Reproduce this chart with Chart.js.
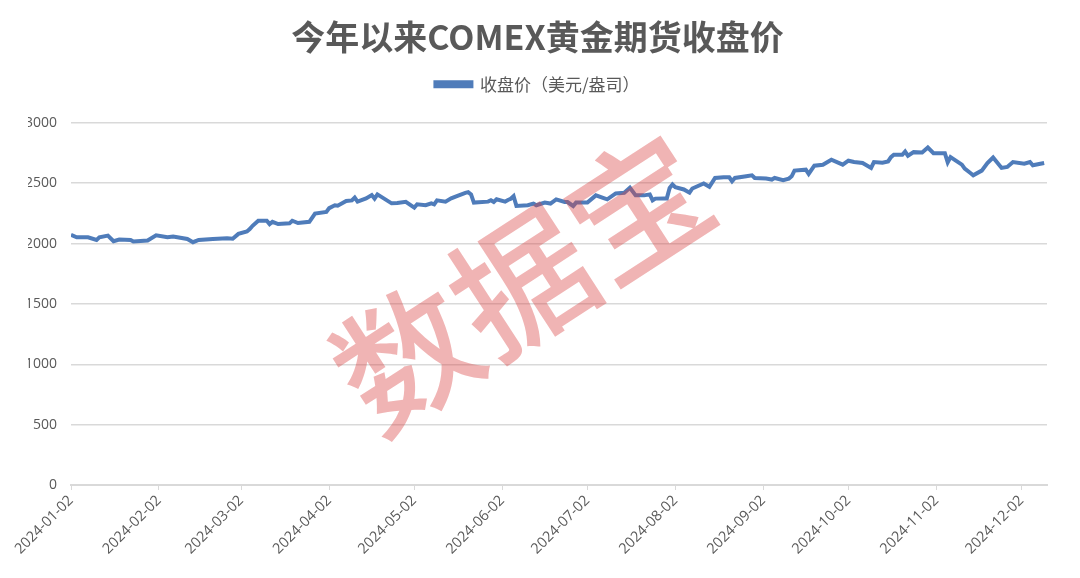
<!DOCTYPE html>
<html>
<head>
<meta charset="utf-8">
<script src="https://cdn.jsdelivr.net/npm/chart.js@4/dist/chart.umd.min.js"></script>
<style>
  html, body { margin: 0; padding: 0; background: #fff; }
  #wrap { width: 1080px; height: 578px; }
</style>
</head>
<body>
<div id="wrap"><canvas id="chart"></canvas></div>
<script>
// даты (торговые дни)
const dates = [
  "2024-01-02","2024-01-04","2024-01-08","2024-01-11","2024-01-12","2024-01-15","2024-01-17","2024-01-19",
  "2024-01-23","2024-01-24","2024-01-29","2024-02-01","2024-02-05","2024-02-07","2024-02-12","2024-02-14",
  "2024-02-16","2024-02-21","2024-02-26","2024-02-28","2024-03-01","2024-03-04","2024-03-05","2024-03-06",
  "2024-03-08","2024-03-11","2024-03-12","2024-03-13","2024-03-15","2024-03-19","2024-03-20","2024-03-22",
  "2024-03-26","2024-03-28","2024-04-01","2024-04-02","2024-04-04","2024-04-05","2024-04-08","2024-04-10",
  "2024-04-11","2024-04-12","2024-04-15","2024-04-17","2024-04-18","2024-04-19","2024-04-24","2024-04-26",
  "2024-04-29","2024-05-02","2024-05-03","2024-05-06","2024-05-08","2024-05-09","2024-05-10","2024-05-13",
  "2024-05-15","2024-05-17","2024-05-20","2024-05-21","2024-05-22","2024-05-23","2024-05-28","2024-05-29",
  "2024-05-30","2024-05-31","2024-06-03","2024-06-04","2024-06-05","2024-06-06","2024-06-07","2024-06-11",
  "2024-06-13","2024-06-14","2024-06-17","2024-06-19","2024-06-21","2024-06-24","2024-06-25","2024-06-27",
  "2024-06-28","2024-07-02","2024-07-05","2024-07-08","2024-07-09","2024-07-12","2024-07-15","2024-07-17",
  "2024-07-19","2024-07-22","2024-07-24","2024-07-25","2024-07-26","2024-07-29","2024-07-30","2024-07-31",
  "2024-08-01","2024-08-02","2024-08-05","2024-08-07","2024-08-08","2024-08-12","2024-08-14","2024-08-16",
  "2024-08-19","2024-08-21","2024-08-22","2024-08-23","2024-08-27","2024-08-29","2024-08-30","2024-09-03",
  "2024-09-05","2024-09-06","2024-09-09","2024-09-11","2024-09-12","2024-09-13","2024-09-17","2024-09-18",
  "2024-09-20","2024-09-23","2024-09-26","2024-09-30","2024-10-02","2024-10-04","2024-10-07","2024-10-10",
  "2024-10-11","2024-10-14","2024-10-16","2024-10-17","2024-10-18","2024-10-21","2024-10-22","2024-10-23",
  "2024-10-25","2024-10-28","2024-10-30","2024-11-01","2024-11-05","2024-11-06","2024-11-07","2024-11-11",
  "2024-11-12","2024-11-14","2024-11-15","2024-11-18","2024-11-20","2024-11-22","2024-11-25","2024-11-27",
  "2024-11-29","2024-12-03","2024-12-05","2024-12-06","2024-12-10"
];

// цены закрытия
const prices = [
  2072,2052,2052,2030,2052,2066,2019,2033,
  2030,2017,2025,2068,2052,2058,2038,2011,
  2030,2038,2044,2040,2080,2100,2120,2147,
  2189,2189,2161,2180,2161,2167,2189,2170,
  2180,2248,2262,2293,2317,2313,2352,2357,
  2380,2347,2374,2402,2372,2407,2333,2335,
  2345,2298,2325,2317,2333,2325,2358,2347,
  2374,2393,2420,2426,2407,2339,2347,2358,
  2344,2366,2347,2361,2371,2393,2311,2317,
  2331,2317,2339,2331,2366,2344,2344,2311,
  2339,2339,2399,2374,2366,2415,2421,2462,
  2399,2399,2407,2358,2372,2374,2374,2460,
  2489,2467,2448,2421,2456,2497,2470,2543,
  2549,2549,2516,2543,2557,2565,2543,2538,
  2530,2543,2525,2538,2557,2604,2612,2576,
  2645,2653,2694,2653,2686,2675,2667,2626,
  2675,2670,2680,2716,2735,2735,2762,2727,
  2757,2754,2795,2748,2748,2672,2716,2653,
  2620,2584,2565,2604,2667,2713,2626,2634,
  2675,2661,2675,2648,2667
];

// подписи оси X
const tickLabels = [
  "2024-01-02","2024-02-02","2024-03-02","2024-04-02","2024-05-02","2024-06-02",
  "2024-07-02","2024-08-02","2024-09-02","2024-10-02","2024-11-02","2024-12-02"
];


// дни от начала
const start = Date.UTC(2024, 0, 2);

function dayOf(s) {
  const p = s.split("-");
  return (Date.UTC(+p[0], +p[1] - 1, +p[2]) - start) / 86400000;
}

const points = dates.map((d, i) => ({ x: dayOf(d), y: prices[i] }));

const tickDays = tickLabels.map(dayOf);


// водяной знак
const watermark = {
  id: "watermark",
  afterDatasetsDraw(chart) {
    const c = chart.ctx;
    c.save();
    c.translate(522, 282);
    c.rotate(-33 * Math.PI / 180);
    c.font = "500 138px 'Noto Sans CJK SC'";
    c.fillStyle = "rgba(217,67,67,0.4)";
    c.textAlign = "center";
    c.textBaseline = "middle";
    c.fillText("数据宝", 0, 0);
    c.restore();
  }
};

// отступ под легендой
const legendGap = {
  id: "legendGap",
  beforeInit(chart) {
    const fit = chart.legend.fit;
    chart.legend.fit = function () {
      fit.bind(chart.legend)();
      this.height += 20;
    };
  }
};


const gray = "#595959";

const ctx = document.getElementById("chart");

new Chart(ctx, {
  type: "line",
  data: {
    datasets: [{
      label: "收盘价（美元/盎司）",
      data: points,
      borderColor: "#4f7cba",
      backgroundColor: "#4f7cba",
      borderWidth: 4,
      pointRadius: 0,
      tension: 0
    }]
  },
  options: {
    responsive: true,
    maintainAspectRatio: false,
    animation: false,
    layout: { padding: { left: 28, right: 33, top: 0, bottom: 0 } },
    plugins: {
      title: {
        display: true,
        text: "今年以来COMEX黄金期货收盘价",
        color: gray,
        font: { family: "'Noto Sans CJK SC'", size: 34, weight: "bold" },
        padding: { top: 17, bottom: 10 }
      },
      legend: {
        labels: {
          color: gray,
          font: { family: "'Noto Sans CJK SC'", size: 17 },
          boxWidth: 36,
          boxHeight: 4,
          padding: 8
        }
      },
      tooltip: { enabled: false }
    },
    scales: {
      x: {
        type: "linear",
        min: 0,
        max: 344,
        afterBuildTicks: s => { s.ticks = tickDays.map(v => ({ value: v })); },
        afterFit: s => { s.height = 93; },
        ticks: {
          color: gray,
          font: { family: "'Open Sans'", size: 14.5 },
          maxRotation: 45,
          minRotation: 45,
          autoSkip: false,
          padding: 2,
          callback: (v, i) => tickLabels[i]
        },
        grid: { drawOnChartArea: false, drawTicks: true, tickLength: 5, color: "#d9d9d9" },
        border: { color: "#d9d9d9", width: 2 }
      },
      y: {
        min: 0,
        max: 3000,
        afterFit: s => { s.width = 43; },
        ticks: {
          stepSize: 500,
          color: gray,
          font: { family: "'Open Sans'", size: 14 },
          padding: 14,
          callback: v => String(v)
        },
        grid: { color: "#d9d9d9", drawTicks: false, lineWidth: 1.5 },
        border: { display: false }
      }
    }
  },
  plugins: [watermark, legendGap]
});
</script>
</body>
</html>
